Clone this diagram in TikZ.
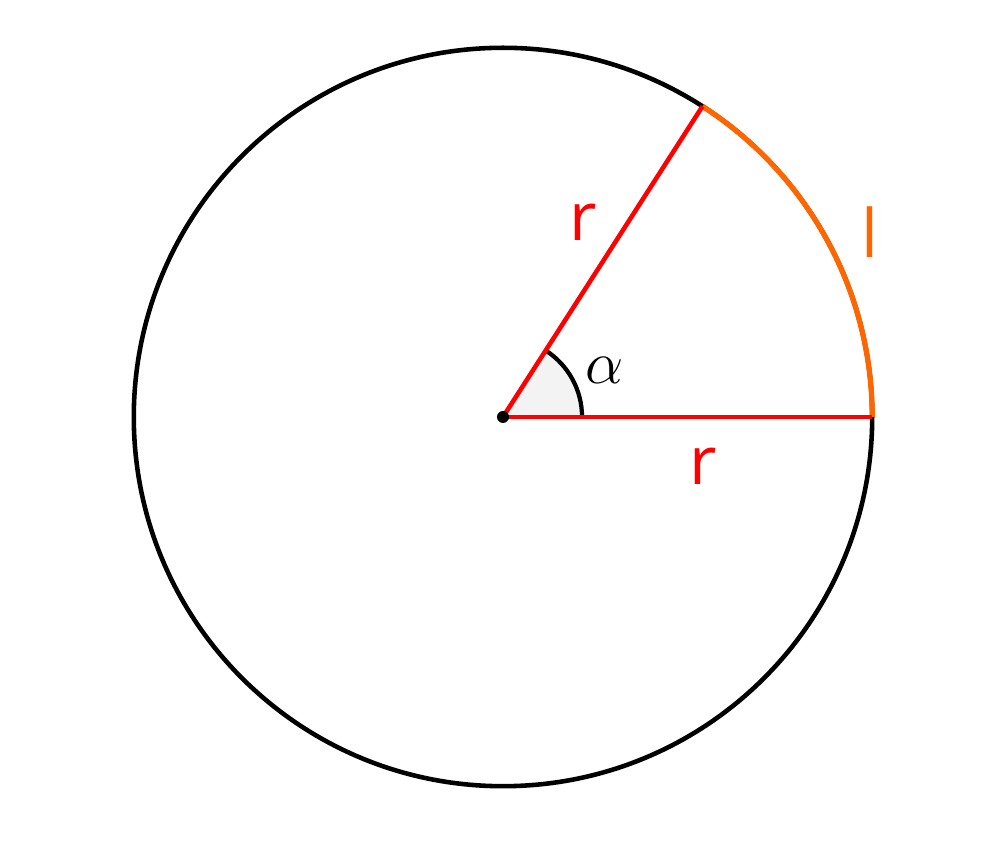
\documentclass[tikz,border=0pt]{standalone}
\usepackage{fontspec}
\setmainfont{Open Sans}
\usetikzlibrary{calc}
\definecolor{arcorange}{HTML}{FF6600}
\definecolor{anglefill}{HTML}{F3F3F3}
\tikzset{
  radiusline/.style={draw=red, line width=1.3pt},
  circleline/.style={draw=black, line width=1.3pt},
  arcline/.style={draw=arcorange, line width=1.5pt},
  redlabel/.style={text=red, font=\fontsize{19}{22}\selectfont, inner sep=0pt},
  orangelabel/.style={text=arcorange, font=\fontsize{19}{22}\selectfont, inner sep=0pt},
}
\begin{document}
\begin{tikzpicture}[x=0.01cm,y=-0.01cm]
\useasboundingbox (0,0) rectangle (999,846);
\coordinate (O) at (503,417);
\coordinate (A) at ($(O)+(3.69cm,0)$);
\coordinate (B) at ($(O)+(57.2958:3.69cm)$);
\coordinate (a1) at ($(O)+(0.79cm,0)$);
% angle sector
\fill[anglefill] (O) -- (a1) arc[start angle=0, end angle=57.2958, radius=0.79cm] -- cycle;
\draw[line width=1.2pt] (a1) arc[start angle=0, end angle=57.2958, radius=0.79cm];
% circle
\draw[circleline] (O) circle[radius=3.69cm];
% arc l
\draw[arcline] (A) arc[start angle=0, end angle=57.2958, radius=3.69cm];
% radii
\draw[radiusline] (O) -- (A);
\draw[radiusline] (O) -- (B);
\fill (O) circle[radius=0.06cm];
% labels
\node[redlabel] (r1) at (583,222) {r};
\node[redlabel] (r2) at (703,466) {r};
\node[orangelabel] (l) at (870,232) {l};
\node[inner sep=0pt, font=\fontsize{19}{22}\selectfont] (alpha) at (605,370) {$\alpha$};
\end{tikzpicture}
\end{document}
